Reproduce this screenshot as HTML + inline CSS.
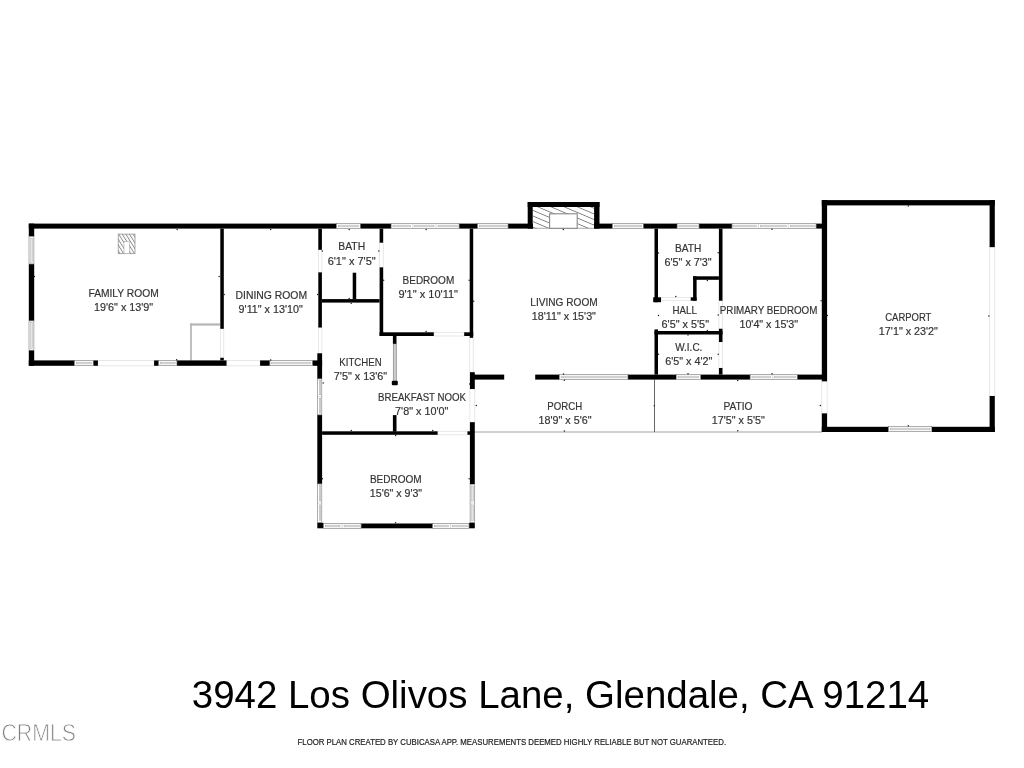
<!DOCTYPE html>
<html><head><meta charset="utf-8"><title>Floor plan</title>
<style>
html,body{margin:0;padding:0;background:#fff;}
body{width:1024px;height:768px;overflow:hidden;position:relative;font-family:"Liberation Sans",sans-serif;}
svg{position:absolute;left:0;top:0;will-change:transform;}
text{font-family:"Liberation Sans",sans-serif;}
.lbl{font-size:10.4px;fill:#333;stroke:#333;stroke-width:0.18px;}
</style></head><body>
<svg width="1024" height="768" viewBox="0 0 1024 768">
<defs>
<pattern id="h1" width="6" height="5.6" patternUnits="userSpaceOnUse" patternTransform="translate(0 0.5) skewY(23)"><rect x="0" y="0" width="6" height="0.6" fill="#333"/></pattern>
<pattern id="h2" width="3.6" height="6" patternUnits="userSpaceOnUse" patternTransform="translate(0.6 0) skewX(32)"><rect x="0" y="0" width="1.1" height="6" fill="#8c8c8c"/></pattern>
</defs>

<g fill="none" stroke="#a0a0a0" stroke-width="1">
<path d="M474.8 432H822"/>
<path d="M654.5 379.6V432" stroke="#666"/>
</g>
<path d="M220.3 324.5H190.2" fill="none" stroke="#b4b4b4" stroke-width="2.2"/><path d="M191 323.4V360.4" fill="none" stroke="#b0b0b0" stroke-width="1.6"/>
<rect x="118.2" y="234.1" width="16.8" height="19.6" fill="url(#h2)" stroke="#888" stroke-width="0.7"/>
<rect x="124" y="241.7" width="5.3" height="12" fill="#fff" stroke="#999" stroke-width="0.5"/>
<rect x="532.7" y="207" width="61.4" height="21.4" fill="url(#h1)"/>
<path d="M532.7 228.3H594.1" stroke="#888" stroke-width="0.7"/>
<rect x="549.6" y="213.8" width="27.6" height="14.5" fill="#fff" stroke="#888" stroke-width="1.1"/>
<g fill="#fff" stroke="#ddd" stroke-width="0.7">
<rect x="97.9" y="360.4" width="56.2" height="5.4"/>
<rect x="226.5" y="360.4" width="33.6" height="5.4"/>
<rect x="220.3" y="328.8" width="3.5" height="28.8"/>
<rect x="318.3" y="249.8" width="3.6" height="22.6"/>
<rect x="318.3" y="327.5" width="3.6" height="25.8"/>
<rect x="379.6" y="242.7" width="3.6" height="24.7"/>
<rect x="433.8" y="332.3" width="30.4" height="3.7"/>
<rect x="469.7" y="337.8" width="3.5" height="34.4"/>
<rect x="469.9" y="389" width="4.9" height="33.2"/>
<rect x="437.6" y="431.3" width="29.9" height="3.5"/>
<rect x="661" y="297.3" width="29.8" height="3.4"/>
<rect x="718.9" y="300.7" width="3.6" height="28.1"/>
<rect x="718.9" y="342" width="3.6" height="26"/>
<rect x="821.8" y="381.3" width="5.3" height="32.1"/>
<rect x="989.6" y="247.1" width="5.2" height="148.9"/>
</g>
<rect x="393.3" y="343.8" width="3" height="37.5" fill="#ccc" stroke="#888" stroke-width="0.7"/>
<rect x="391.8" y="380.8" width="6" height="4.5" rx="1" fill="#000"/>
<g fill="#fff" stroke="#777" stroke-width="0.6"><rect x="336.5" y="223.5" width="23.8" height="5"/><rect x="391.2" y="223.5" width="67.8" height="5"/><rect x="477.6" y="223.5" width="30.3" height="5"/><rect x="612.5" y="223.5" width="30.8" height="5"/><rect x="677.2" y="223.5" width="21.7" height="5"/><rect x="732.1" y="223.5" width="83.9" height="5"/><rect x="29" y="236.4" width="4.9" height="27.5"/><rect x="29" y="320.9" width="4.9" height="29.3"/><rect x="74.5" y="360.5" width="18.7" height="5"/><rect x="158.6" y="360.5" width="18.2" height="5"/><rect x="269.9" y="360.5" width="42.5" height="5"/><rect x="317.5" y="378.9" width="4.3" height="35.9"/><rect x="317.5" y="484" width="4.3" height="38.5"/><rect x="470.1" y="484.3" width="4.4" height="38.2"/><rect x="323.5" y="523.5" width="37.5" height="5"/><rect x="432.6" y="523.5" width="36.3" height="5"/><rect x="559.4" y="374.5" width="68.4" height="5"/><rect x="676.3" y="374.5" width="24.2" height="5"/><rect x="750.2" y="374.5" width="47" height="5"/><rect x="888.5" y="426.5" width="43.2" height="5"/></g>
<g fill="#e6e6e6" stroke="#999" stroke-width="0.4"><rect x="338.2" y="225.1" width="20.4" height="1.8"/><rect x="392.9" y="225.1" width="17.9" height="1.8"/><rect x="414.8" y="225.1" width="19.2" height="1.8"/><rect x="438" y="225.1" width="19.3" height="1.8"/><rect x="479.3" y="225.1" width="26.9" height="1.8"/><rect x="614.2" y="225.1" width="27.4" height="1.8"/><rect x="678.9" y="225.1" width="18.3" height="1.8"/><rect x="733.8" y="225.1" width="22.5" height="1.8"/><rect x="760.3" y="225.1" width="25.9" height="1.8"/><rect x="790.2" y="225.1" width="24.1" height="1.8"/><rect x="30.7" y="238.1" width="1.6" height="24.1"/><rect x="30.7" y="322.6" width="1.6" height="25.9"/><rect x="76.2" y="362.1" width="15.3" height="1.8"/><rect x="160.3" y="362.1" width="14.8" height="1.8"/><rect x="271.6" y="362.1" width="39.1" height="1.8"/><rect x="319.2" y="380.6" width="1.6" height="14.2"/><rect x="319.2" y="398.8" width="1.6" height="14.3"/><rect x="319.2" y="485.7" width="1.6" height="15.2"/><rect x="319.2" y="504.9" width="1.6" height="15.9"/><rect x="471.8" y="486" width="1.6" height="14.9"/><rect x="471.8" y="504.9" width="1.6" height="15.9"/><rect x="325.2" y="525.1" width="14.8" height="1.8"/><rect x="344" y="525.1" width="15.3" height="1.8"/><rect x="434.3" y="525.1" width="14.1" height="1.8"/><rect x="452.4" y="525.1" width="14.8" height="1.8"/><rect x="561.1" y="376.1" width="65" height="1.8"/><rect x="678" y="376.1" width="20.8" height="1.8"/><rect x="751.9" y="376.1" width="18.8" height="1.8"/><rect x="774.7" y="376.1" width="20.8" height="1.8"/><rect x="890.2" y="428.1" width="39.8" height="1.8"/><path d="M412.8 223.5V228.5"/><path d="M436 223.5V228.5"/><path d="M758.3 223.5V228.5"/><path d="M788.2 223.5V228.5"/><path d="M317.5 396.8H321.8"/><path d="M317.5 502.9H321.8"/><path d="M470.1 502.9H474.5"/><path d="M342 523.5V528.5"/><path d="M450.4 523.5V528.5"/><path d="M772.7 374.5V379.5"/></g>
<g fill="#000">
<rect x="28.8" y="223.6" width="307.4" height="5"/>
<rect x="360.6" y="223.6" width="30.3" height="5"/>
<rect x="459.3" y="223.6" width="18" height="5"/>
<rect x="508.2" y="223.6" width="24.8" height="5"/>
<rect x="594.1" y="223.6" width="18.1" height="5"/>
<rect x="643.6" y="223.6" width="33.3" height="5"/>
<rect x="699.2" y="223.6" width="32.6" height="5"/>
<rect x="816.3" y="223.6" width="6.2" height="5"/>
<rect x="527.7" y="202" width="71.8" height="5"/>
<rect x="527.7" y="202" width="5" height="26.6"/>
<rect x="594.1" y="202" width="5.4" height="26.6"/>
<rect x="28.8" y="223.6" width="5.4" height="12.5"/>
<rect x="28.8" y="264.2" width="5.4" height="56.4"/>
<rect x="28.8" y="350.5" width="5.4" height="15.3"/>
<rect x="28.8" y="360.4" width="45.4" height="5.4"/>
<rect x="93.5" y="360.4" width="4.4" height="5.4"/>
<rect x="154.1" y="360.4" width="4.2" height="5.4"/>
<rect x="177.1" y="360.4" width="49.4" height="5.4"/>
<rect x="260.1" y="360.4" width="9.5" height="5.4"/>
<rect x="312.7" y="360.4" width="9.4" height="5.4"/>
<rect x="220.3" y="228.6" width="3.5" height="100.2"/>
<rect x="220.3" y="357.8" width="3.5" height="2.6"/>
<rect x="318.3" y="228.6" width="3.6" height="21.2"/>
<rect x="318.3" y="272.4" width="3.6" height="55.1"/>
<rect x="317.3" y="353.3" width="4.8" height="25.3"/>
<rect x="317.3" y="415.1" width="4.8" height="68.6"/>
<rect x="317.3" y="522.8" width="5.9" height="5.5"/>
<rect x="321.9" y="299.1" width="57.7" height="3.5"/>
<rect x="352.7" y="272.7" width="3.5" height="26.4"/>
<rect x="379.6" y="228.6" width="3.6" height="14.1"/>
<rect x="379.6" y="267.4" width="3.6" height="68.6"/>
<rect x="379.6" y="332.3" width="54.2" height="3.7"/>
<rect x="464.2" y="332.3" width="9" height="3.7"/>
<rect x="469.7" y="228.6" width="3.5" height="109.2"/>
<rect x="392.9" y="336" width="3.6" height="7.8"/>
<rect x="469.9" y="372.2" width="4.9" height="16.8"/>
<rect x="469.9" y="422.2" width="4.9" height="61.8"/>
<rect x="469.2" y="522.8" width="5.6" height="5.5"/>
<rect x="392.9" y="415.1" width="3.6" height="16.6"/>
<rect x="322.1" y="431.3" width="115.5" height="3.5"/>
<rect x="467.5" y="431.3" width="2.5" height="3.5"/>
<rect x="361.3" y="523.5" width="71" height="4.8"/>
<rect x="470" y="374.6" width="34.2" height="5"/>
<rect x="535.2" y="374.6" width="23.9" height="5"/>
<rect x="628.1" y="374.6" width="47.9" height="5"/>
<rect x="700.8" y="374.6" width="49.1" height="5"/>
<rect x="797.5" y="374.6" width="29.4" height="5"/>
<rect x="654.5" y="228.6" width="3.5" height="73.6"/>
<rect x="653.2" y="297.3" width="7.8" height="4.9"/>
<rect x="654.5" y="329.4" width="3.5" height="45.2"/>
<rect x="718.9" y="228.6" width="3.6" height="72.1"/>
<rect x="693.1" y="276.3" width="25.8" height="3.5"/>
<rect x="693.1" y="276.3" width="3.5" height="24.4"/>
<rect x="690.8" y="297.3" width="5.8" height="3.4"/>
<rect x="654.5" y="331" width="68" height="3.5"/>
<rect x="718.9" y="328.8" width="3.6" height="13.2"/>
<rect x="718.9" y="368" width="3.6" height="6.6"/>
<rect x="821.8" y="200.1" width="173" height="5.3"/>
<rect x="821.8" y="200.1" width="5.3" height="181.2"/>
<rect x="821.8" y="413.4" width="5.3" height="18.6"/>
<rect x="989.6" y="200.1" width="5.2" height="47"/>
<rect x="989.6" y="396" width="5.2" height="36"/>
<rect x="821.8" y="426.8" width="66.4" height="5.2"/>
<rect x="932" y="426.8" width="62.8" height="5.2"/>
</g>
<g fill="#222"><circle cx="177.1" cy="229.5" r="0.75"/><circle cx="34.4" cy="276.4" r="0.75"/><circle cx="219.1" cy="276.4" r="0.75"/><circle cx="176.6" cy="359.8" r="0.75"/><circle cx="270.7" cy="229.5" r="0.75"/><circle cx="224.2" cy="294.5" r="0.75"/><circle cx="317.6" cy="294.5" r="0.75"/><circle cx="322.3" cy="251" r="0.75"/><circle cx="378.8" cy="251" r="0.75"/><circle cx="349.2" cy="229.5" r="0.75"/><circle cx="349.2" cy="298.5" r="0.75"/><circle cx="351.2" cy="303.2" r="0.75"/><circle cx="270.7" cy="360" r="0.75"/><circle cx="426.1" cy="229.4" r="0.75"/><circle cx="383.6" cy="280.3" r="0.75"/><circle cx="469.2" cy="280.3" r="0.75"/><circle cx="473.7" cy="301.3" r="0.75"/><circle cx="426.1" cy="331.6" r="0.75"/><circle cx="323.2" cy="383" r="0.75"/><circle cx="351.3" cy="430.4" r="0.75"/><circle cx="432.7" cy="430.4" r="0.75"/><circle cx="395.6" cy="435.5" r="0.75"/><circle cx="476.3" cy="405.5" r="0.75"/><circle cx="469.7" cy="384" r="0.75"/><circle cx="322.4" cy="478.8" r="0.75"/><circle cx="469.2" cy="478.8" r="0.75"/><circle cx="395.6" cy="522.8" r="0.75"/><circle cx="563.3" cy="229.4" r="0.75"/><circle cx="658.5" cy="253" r="0.75"/><circle cx="658.5" cy="315.4" r="0.75"/><circle cx="563.5" cy="374" r="0.75"/><circle cx="564.4" cy="380.2" r="0.75"/><circle cx="654.3" cy="405.7" r="0.75"/><circle cx="564.4" cy="431" r="0.75"/><circle cx="658.5" cy="354.2" r="0.75"/><circle cx="772" cy="229.3" r="0.75"/><circle cx="718.2" cy="252.8" r="0.75"/><circle cx="675.8" cy="296.4" r="0.75"/><circle cx="707.4" cy="280.6" r="0.75"/><circle cx="718.2" cy="315" r="0.75"/><circle cx="688" cy="335" r="0.75"/><circle cx="707.4" cy="330.4" r="0.75"/><circle cx="718.2" cy="354.2" r="0.75"/><circle cx="821.2" cy="300.8" r="0.75"/><circle cx="827.4" cy="315.6" r="0.75"/><circle cx="688" cy="373.8" r="0.75"/><circle cx="737.7" cy="380.6" r="0.75"/><circle cx="772" cy="373.8" r="0.75"/><circle cx="820.4" cy="405.6" r="0.75"/><circle cx="737.7" cy="430.8" r="0.75"/><circle cx="908.3" cy="206" r="0.75"/><circle cx="988.9" cy="316" r="0.75"/><circle cx="908.3" cy="425.8" r="0.75"/></g>
<g class="lbl" text-anchor="middle" opacity="0.999">
<text x="123.6" y="296.7" textLength="70.3" lengthAdjust="spacingAndGlyphs">FAMILY ROOM</text>
<text x="123.6" y="310.7" textLength="59.1" lengthAdjust="spacingAndGlyphs">19'6&quot; x 13'9&quot;</text>
<text x="271.3" y="298.9" textLength="71.5" lengthAdjust="spacingAndGlyphs">DINING ROOM</text>
<text x="270.7" y="312.9" textLength="64.2" lengthAdjust="spacingAndGlyphs">9'11&quot; x 13'10&quot;</text>
<text x="351.7" y="250.4" textLength="26.9" lengthAdjust="spacingAndGlyphs">BATH</text>
<text x="351.7" y="264.6" textLength="48.1" lengthAdjust="spacingAndGlyphs">6'1&quot; x 7'5&quot;</text>
<text x="428.4" y="283.6" textLength="51.7" lengthAdjust="spacingAndGlyphs">BEDROOM</text>
<text x="428.2" y="297.7" textLength="59.6" lengthAdjust="spacingAndGlyphs">9'1&quot; x 10'11&quot;</text>
<text x="360.5" y="366" textLength="42.4" lengthAdjust="spacingAndGlyphs">KITCHEN</text>
<text x="360.5" y="380.2" textLength="53.4" lengthAdjust="spacingAndGlyphs">7'5&quot; x 13'6&quot;</text>
<text x="422" y="400.8" textLength="88" lengthAdjust="spacingAndGlyphs">BREAKFAST NOOK</text>
<text x="421.7" y="414.7" textLength="53.2" lengthAdjust="spacingAndGlyphs">7'8&quot; x 10'0&quot;</text>
<text x="395.8" y="483.4" textLength="51.8" lengthAdjust="spacingAndGlyphs">BEDROOM</text>
<text x="396" y="497.3" textLength="52.3" lengthAdjust="spacingAndGlyphs">15'6&quot; x 9'3&quot;</text>
<text x="564" y="305.6" textLength="67.4" lengthAdjust="spacingAndGlyphs">LIVING ROOM</text>
<text x="563.9" y="320" textLength="64.1" lengthAdjust="spacingAndGlyphs">18'11&quot; x 15'3&quot;</text>
<text x="564.7" y="410" textLength="34.9" lengthAdjust="spacingAndGlyphs">PORCH</text>
<text x="565" y="424.1" textLength="53" lengthAdjust="spacingAndGlyphs">18'9&quot; x 5'6&quot;</text>
<text x="688.1" y="252" textLength="26.4" lengthAdjust="spacingAndGlyphs">BATH</text>
<text x="688.1" y="265.9" textLength="47.2" lengthAdjust="spacingAndGlyphs">6'5&quot; x 7'3&quot;</text>
<text x="684.7" y="313.5" textLength="24.3" lengthAdjust="spacingAndGlyphs">HALL</text>
<text x="685.3" y="327.7" textLength="47.4" lengthAdjust="spacingAndGlyphs">6'5&quot; x 5'5&quot;</text>
<text x="768.6" y="313.9" textLength="97.6" lengthAdjust="spacingAndGlyphs">PRIMARY BEDROOM</text>
<text x="768.8" y="328.3" textLength="58.7" lengthAdjust="spacingAndGlyphs">10'4&quot; x 15'3&quot;</text>
<text x="688.8" y="350.9" textLength="27.1" lengthAdjust="spacingAndGlyphs">W.I.C.</text>
<text x="688.8" y="364.8" textLength="47.1" lengthAdjust="spacingAndGlyphs">6'5&quot; x 4'2&quot;</text>
<text x="738" y="410" textLength="29.1" lengthAdjust="spacingAndGlyphs">PATIO</text>
<text x="738.3" y="423.9" textLength="53" lengthAdjust="spacingAndGlyphs">17'5&quot; x 5'5&quot;</text>
<text x="908.3" y="320.5" textLength="46.1" lengthAdjust="spacingAndGlyphs">CARPORT</text>
<text x="908.4" y="334.7" textLength="59.1" lengthAdjust="spacingAndGlyphs">17'1&quot; x 23'2&quot;</text>
</g>
<g opacity="0.999">
<text x="560.5" y="707.7" text-anchor="middle" font-size="39.2" fill="#000" textLength="737.5" lengthAdjust="spacingAndGlyphs">3942 Los Olivos Lane, Glendale, CA 91214</text>
<text x="511.8" y="744.9" text-anchor="middle" font-size="8.5" fill="#222" stroke="#222" stroke-width="0.2" textLength="428.5" lengthAdjust="spacingAndGlyphs">FLOOR PLAN CREATED BY CUBICASA APP. MEASUREMENTS DEEMED HIGHLY RELIABLE BUT NOT GUARANTEED.</text>
<text x="1.5" y="741" font-size="23.5" fill="#808080" stroke="#fff" stroke-width="0.8" textLength="74.5" lengthAdjust="spacingAndGlyphs">CRMLS</text>
</g>
</svg></body></html>
